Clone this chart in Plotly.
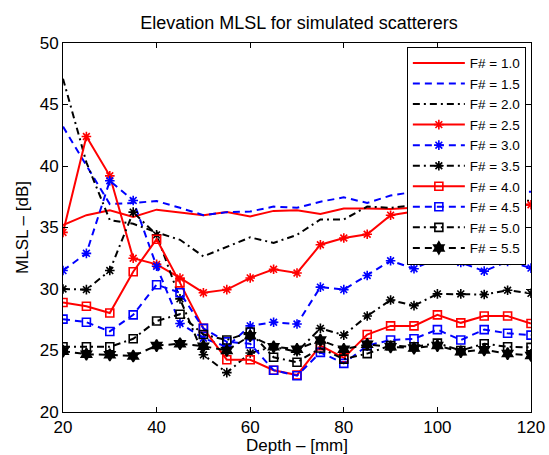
import plotly.graph_objects as go

depth = [20, 25, 30, 35, 40, 45, 50, 55, 60, 65, 70, 75, 80, 85, 90, 95, 100, 105, 110, 115, 120]

f10 = [35.2, 36.0, 36.4, 35.85, 36.45, 36.25, 36.0, 36.25, 35.9, 36.35, 36.4, 36.1, 36.55, 36.55, 36.5, 36.6, 36.5, 36.6, 36.7, 36.8, 36.9]
f15 = [43.2, 40.1, 36.9, 37.0, 37.15, 36.6, 36.0, 36.25, 36.3, 36.7, 36.6, 37.1, 37.45, 37.0, 37.6, 37.9, 37.8, 37.7, 37.8, 37.9, 37.9]
f20 = [47.1, 40.3, 35.6, 35.3, 34.6, 34.0, 32.65, 33.4, 34.2, 33.75, 34.4, 35.65, 35.65, 36.7, 36.6, 36.8, 37.0, 36.9, 37.1, 37.0, 37.2]
f25 = [34.6, 42.4, 39.2, 32.5, 32.0, 30.9, 29.7, 29.95, 30.9, 31.6, 31.3, 33.6, 34.15, 34.45, 36.0, 36.3, 36.5, 36.6, 36.7, 36.8, 36.85]
f30 = [31.5, 32.9, 38.8, 37.2, 31.85, 27.2, 26.0, 25.3, 27.0, 27.3, 27.15, 30.15, 29.95, 31.1, 32.3, 31.65, 32.5, 32.15, 31.45, 32.25, 31.7]
f35 = [30.0, 29.95, 31.5, 36.25, 34.4, 29.2, 24.65, 23.2, 24.8, 25.3, 24.9, 26.8, 26.25, 27.8, 29.1, 28.65, 29.6, 29.6, 29.55, 29.9, 29.65]
f40 = [28.9, 28.6, 28.05, 31.4, 34.05, 30.5, 26.8, 24.25, 24.25, 23.4, 23.0, 25.4, 24.4, 26.3, 27.0, 27.0, 27.9, 27.25, 27.8, 27.8, 27.2]
f45 = [27.55, 27.3, 26.55, 27.9, 30.35, 29.7, 26.8, 25.7, 25.55, 23.4, 22.95, 24.85, 23.95, 25.4, 25.85, 25.95, 26.7, 25.85, 26.7, 26.4, 26.25]
f50 = [25.3, 25.3, 25.3, 25.95, 27.4, 27.95, 26.3, 25.85, 26.5, 24.45, 24.05, 25.2, 24.3, 24.75, 25.4, 25.3, 25.6, 25.0, 25.55, 25.3, 25.25]
f55 = [24.95, 24.7, 24.65, 24.55, 25.4, 25.55, 25.35, 25.0, 26.2, 25.3, 25.1, 25.85, 25.1, 25.5, 25.3, 25.2, 25.4, 24.9, 25.05, 24.75, 24.6]

names = ["F# = 1.0", "F# = 1.5", "F# = 2.0", "F# = 2.5", "F# = 3.0",
         "F# = 3.5", "F# = 4.0", "F# = 4.5", "F# = 5.0", "F# = 5.5"]
series = [f10, f15, f20, f25, f30, f35, f40, f45, f50, f55]

RED, BLUE, BLACK = "#ff0000", "#0000ff", "#000000"
DASH = "7px,5px"
DASHDOT = "7px,4px,2px,4px"
styles = [
    (RED, "solid", None),
    (BLUE, DASH, None),
    (BLACK, DASHDOT, None),
    (RED, "solid", "asterisk-open"),
    (BLUE, DASH, "asterisk-open"),
    (BLACK, DASHDOT, "asterisk-open"),
    (RED, "solid", "square-open"),
    (BLUE, DASH, "square-open"),
    (BLACK, DASHDOT, "square-open"),
    (BLACK, DASH, "hexagram"),
]

fig = go.Figure()
for name, ys, (c, d, sym) in zip(names, series, styles):
    if sym is None:
        fig.add_trace(go.Scatter(x=depth, y=ys, name=name, mode="lines",
                                 line=dict(color=c, width=2, dash=d)))
    else:
        size = 9 if sym == "hexagram" else 8
        fig.add_trace(go.Scatter(x=depth, y=ys, name=name, mode="lines+markers",
                                 line=dict(color=c, width=2, dash=d),
                                 marker=dict(symbol=sym, size=size, color=c,
                                             line=dict(color=c, width=1.6))))

FONT = "Liberation Sans, Arial, Helvetica, sans-serif"
axis_common = dict(showline=True, linecolor="black", linewidth=1, mirror="ticks",
                   ticks="inside", ticklen=5, tickcolor="black", showgrid=False,
                   zeroline=False, automargin=False,
                   tickfont=dict(size=17, color="black", family=FONT))

fig.update_layout(
    width=549, height=455,
    margin=dict(l=63, r=18, t=43, b=43),
    paper_bgcolor="white", plot_bgcolor="white",
    font=dict(family=FONT, color="black"),
    title=dict(text="Elevation MLSL for simulated scatterers", x=(142 + 456) / 2 / 549,
               xanchor="center", y=1 - 23 / 455, yanchor="middle",
               font=dict(size=18, color="black")),
    xaxis=dict(range=[20, 120], tickvals=[20, 40, 60, 80, 100, 120],
               title=dict(text="Depth \u2013 [mm]", font=dict(size=17), standoff=2),
               **axis_common),
    yaxis=dict(range=[20, 50], tickvals=[20, 25, 30, 35, 40, 45, 50],
               title=dict(text="MLSL \u2013 [dB]", font=dict(size=17), standoff=6),
               **axis_common),
    legend=dict(x=0.989, xanchor="right", y=0.99, yanchor="top",
                bgcolor="white", bordercolor="black", borderwidth=1,
                font=dict(size=13.5, color="black", family=FONT), tracegroupgap=0,
                itemwidth=52),
)

fig.write_html("out.html")
